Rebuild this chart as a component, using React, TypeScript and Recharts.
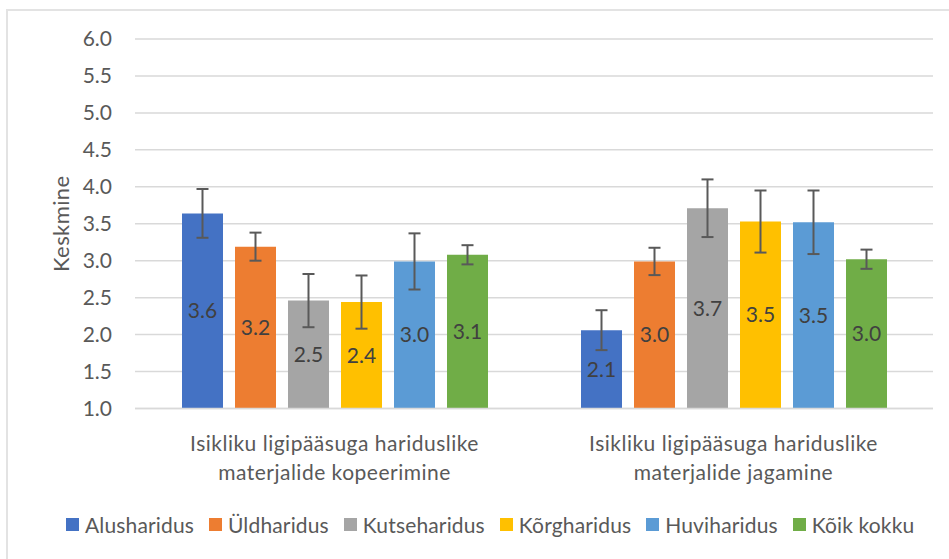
import React from 'react';
import { BarChart, Bar, XAxis, YAxis, CartesianGrid, Legend, ErrorBar, LabelList } from 'recharts';

const categories = [
  'Isikliku ligipääsuga hariduslike materjalide kopeerimine',
  'Isikliku ligipääsuga hariduslike materjalide jagamine',
];
const seriesNames = ['Alusharidus', 'Üldharidus', 'Kutseharidus', 'Kõrgharidus', 'Huviharidus', 'Kõik kokku'];
const seriesColors = ['#4472C4', '#ED7D31', '#A5A5A5', '#FFC000', '#5B9BD5', '#70AD47'];
const alusharidus = [3.64, 2.06];
const yldharidus = [3.19, 2.99];
const kutseharidus = [2.46, 3.71];
const korgharidus = [2.44, 3.53];
const huviharidus = [2.99, 3.52];
const koikKokku = [3.08, 3.02];
const alusharidusErr = [0.33, 0.27];
const yldharidusErr = [0.19, 0.185];
const kutseharidusErr = [0.36, 0.39];
const korgharidusErr = [0.36, 0.42];
const huviharidusErr = [0.38, 0.43];
const koikKokkuErr = [0.13, 0.13];
const yTicks = [1.0, 1.5, 2.0, 2.5, 3.0, 3.5, 4.0, 4.5, 5.0, 5.5, 6.0];
const yLabel = 'Keskmine';

const seriesValues = [alusharidus, yldharidus, kutseharidus, korgharidus, huviharidus, koikKokku];
const seriesErrors = [alusharidusErr, yldharidusErr, kutseharidusErr, korgharidusErr, huviharidusErr, koikKokkuErr];

const data = categories.map((c, i) => {
  const row: Record<string, any> = { name: c };
  seriesNames.forEach((s, j) => {
    row['s' + j] = seriesValues[j][i];
    row['e' + j] = seriesErrors[j][i];
  });
  return row;
});

const FONT = 'Lato, "Liberation Sans", sans-serif';
const TEXT = '#595959';
const GRID = '#d9d9d9';

const CategoryTick = (props: any) => {
  const { x, y, payload } = props;
  const words = String(payload.value).split(' ');
  const l1 = words.slice(0, 3).join(' ');
  const l2 = words.slice(3).join(' ');
  return (
    <g>
      <text x={x} y={y + 26} textAnchor="middle" dominantBaseline="central" fill={TEXT} fontSize={21} letterSpacing={0.5} fontFamily={FONT}>
        {l1}
      </text>
      <text x={x} y={y + 55} textAnchor="middle" dominantBaseline="central" fill={TEXT} fontSize={21} letterSpacing={0.5} fontFamily={FONT}>
        {l2}
      </text>
    </g>
  );
};

const YLabel = (props: any) => {
  const vb = props.viewBox || {};
  const cy = vb.y + vb.height / 2;
  const cx = 60;
  return (
    <text x={cx} y={cy} transform={`rotate(-90 ${cx} ${cy})`} textAnchor="middle" dominantBaseline="central" fill={TEXT} fontSize={22} letterSpacing={0.4} fontFamily={FONT}>
      {yLabel}
    </text>
  );
};

const LegendContent = () => (
  <div style={{ display: 'flex', alignItems: 'center', gap: 15, fontFamily: FONT, fontSize: 21, color: TEXT, height: 28, letterSpacing: 0.15 }}>
    {seriesNames.map((s, j) => (
      <div key={s} style={{ display: 'flex', alignItems: 'center' }}>
        <span style={{ display: 'inline-block', width: 13, height: 13, background: seriesColors[j], marginRight: 6 }} />
        <span>{s}</span>
      </div>
    ))}
  </div>
);

export default function App() {
  return (
    <div style={{ position: 'absolute', left: 0, top: 0, width: 949, height: 559, background: '#fff' }}>
      <div
        style={{
          position: 'absolute',
          left: 6,
          top: 9,
          width: 943,
          height: 550,
          borderTop: `2px solid #e3e3e3`,
          borderLeft: `2px solid #e3e3e3`,
          boxSizing: 'border-box',
        }}
      />
      <div style={{ position: 'absolute', left: 0, top: 0 }}>
        <BarChart
          width={949}
          height={559}
          data={data}
          margin={{ top: 39, right: 16, left: 0, bottom: 42.5 }}
          barSize={41}
          barGap={12}
          style={{ fontFamily: FONT }}
        >
          <CartesianGrid vertical={false} stroke={GRID} strokeWidth={1.5} />
          <XAxis
            dataKey="name"
            height={80}
            axisLine={{ stroke: GRID, strokeWidth: 1.5 }}
            tickLine={false}
            tick={<CategoryTick />}
            interval={0}
          />
          <YAxis
            width={135}
            domain={[1, 6]}
            ticks={yTicks}
            tickFormatter={(v: number) => v.toFixed(1)}
            axisLine={false}
            tickLine={false}
            tickSize={0}
            tickMargin={23}
            tick={{ fill: TEXT, fontSize: 21, fontFamily: FONT }}
            label={<YLabel />}
          />
          <Legend
            verticalAlign="bottom"
            content={<LegendContent />}
            wrapperStyle={{ left: 66, top: 510, width: 870, height: 28, bottom: 'auto' }}
          />
          {seriesNames.map((s, j) => (
            <Bar key={s} dataKey={'s' + j} name={s} fill={seriesColors[j]} isAnimationActive={false}>
              <ErrorBar dataKey={'e' + j} width={6} stroke="#595959" strokeWidth={2} direction="y" />
              <LabelList
                dataKey={'s' + j}
                position="center"
                formatter={(v: any) => Number(v).toFixed(1)}
                fill="#404040"
                fontSize={21}
                fontFamily={FONT}
              />
            </Bar>
          ))}
        </BarChart>
      </div>
    </div>
  );
}
